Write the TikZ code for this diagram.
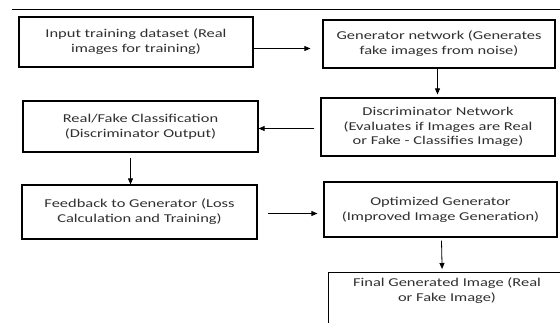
\documentclass[tikz,border=0pt]{standalone}
\usepackage{fontspec}
\setmainfont{Carlito}[FakeStretch=1.37]
\usetikzlibrary{arrows.meta}
\definecolor{txtgray}{HTML}{303030}
\tikzset{
  stage/.style={draw=black, line width=1.2pt, fill=white, align=center,
    font=\fontsize{12}{14.8}\selectfont, text=txtgray, inner sep=2pt},
  caption/.style={align=center, font=\fontsize{12}{14.8}\selectfont, text=txtgray, inner sep=0pt},
  flow/.style={draw=black, line width=0.8pt, -{Triangle[length=6pt,width=5pt]}}
}
\begin{document}
\begin{tikzpicture}[x=1pt,y=-1pt]
\useasboundingbox (0,0) rectangle (560,322);
\fill[white] (0,0) rectangle (560,322);

% header rule
\draw[line width=0.8pt] (12,9) -- (560,9);

% stages
\node[stage, minimum width=234pt, minimum height=50pt] (in) at (136,42)
  {Input training dataset (Real\\images for training)};
\node[stage, minimum width=232pt, minimum height=48pt] (gen) at (439,44)
  {Generator network (Generates\\fake images from noise)};
\node[stage, minimum width=235pt, minimum height=51pt] (rf) at (140.5,126.5)
  {Real/Fake Classification\\(Discriminator Output)};
\node[stage, minimum width=234pt, minimum height=58pt] (disc) at (438,127)
  {Discriminator Network\\(Evaluates if Images are Real\\or Fake - Classifies Image)};
\node[stage, minimum width=235pt, minimum height=54pt] (fb) at (139.5,212)
  {Feedback to Generator (Loss\\Calculation and Training)};
\node[stage, minimum width=233pt, minimum height=55pt] (opt) at (440.5,209.5)
  {Optimized Generator\\(Improved Image Generation)};
\node[stage, anchor=north west, minimum width=238pt, minimum height=80pt] (fin) at (328,272) {};
\node[caption] (fintxt) at (447,291) {Final Generated Image (Real\\or Fake Image)};

% connectors
\draw[flow] ([yshift=-6.5pt]in.east) -- ([yshift=-4.5pt,xshift=-12pt]gen.west);
\draw[flow] ([xshift=-1.5pt]gen.south) -- ([xshift=-0.5pt,yshift=3pt]disc.north);
\draw[flow] ([xshift=-6pt,yshift=-1.5pt]disc.west) -- ([yshift=-2pt]rf.east);
\draw[flow] ([xshift=-10pt,yshift=-5pt]rf.south) -- ([xshift=-9pt]fb.north);
\draw[flow] ([xshift=10pt,yshift=-1.5pt]fb.east) -- ([xshift=-6pt,yshift=-4pt]opt.west);
\draw[flow] ([xshift=1pt,yshift=-3pt]opt.south) -- ([xshift=-5.5pt,yshift=3pt]fin.north);
\end{tikzpicture}
\end{document}
